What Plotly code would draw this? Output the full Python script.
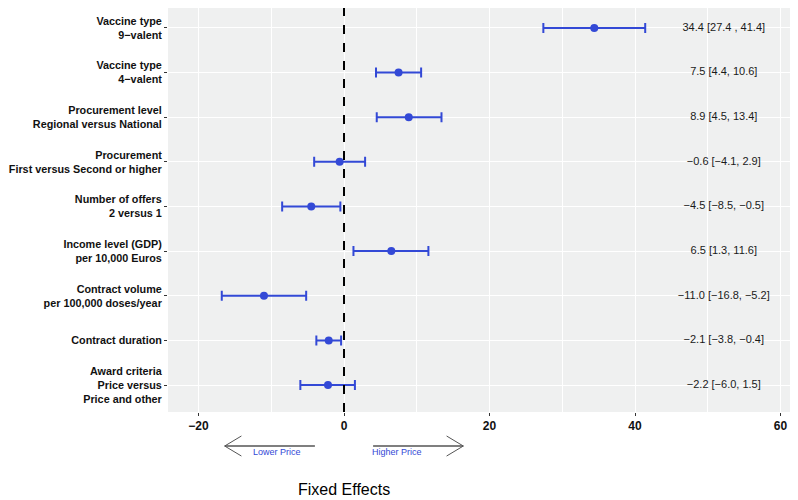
import plotly.graph_objects as go

categories = [
    "Vaccine type<br>9−valent",
    "Vaccine type<br>4−valent",
    "Procurement level<br>Regional versus National",
    "Procurement<br>First versus Second or higher",
    "Number of offers<br>2 versus 1",
    "Income level (GDP)<br>per 10,000 Euros",
    "Contract volume<br>per 100,000 doses/year",
    "Contract duration",
    "Award criteria<br>Price versus<br>Price and other",
]
estimates = [34.4, 7.5, 8.9, -0.6, -4.5, 6.5, -11.0, -2.1, -2.2]
lower = [27.4, 4.4, 4.5, -4.1, -8.5, 1.3, -16.8, -3.8, -6.0]
upper = [41.4, 10.6, 13.4, 2.9, -0.5, 11.6, -5.2, -0.4, 1.5]
ci_labels = [
    "34.4 [27.4 , 41.4]",
    "7.5 [4.4, 10.6]",
    "8.9 [4.5, 13.4]",
    "−0.6 [−4.1, 2.9]",
    "−4.5 [−8.5, −0.5]",
    "6.5 [1.3, 11.6]",
    "−11.0 [−16.8, −5.2]",
    "−2.1 [−3.8, −0.4]",
    "−2.2 [−6.0, 1.5]",
]
x_ticks = [-20, 0, 20, 40, 60]

BLUE = "#3349d6"
FONT = "Liberation Sans"

err_plus = [u - e for u, e in zip(upper, estimates)]
err_minus = [e - l for e, l in zip(estimates, lower)]

fig = go.Figure()
fig.add_trace(go.Scatter(
    x=estimates, y=categories, mode="markers",
    marker=dict(color=BLUE, size=8),
    error_x=dict(type="data", symmetric=False, array=err_plus, arrayminus=err_minus,
                 color=BLUE, thickness=2, width=5),
    showlegend=False, hoverinfo="x+y",
))
fig.add_trace(go.Scatter(
    x=[52.2] * len(categories), y=categories, mode="text", text=ci_labels,
    textfont=dict(family=FONT, size=11, color="#1a1a1a"),
    textposition="middle center", showlegend=False, hoverinfo="skip",
))

# zero line
fig.add_shape(type="line", xref="x", yref="paper", x0=0, x1=0, y0=0, y1=1,
              line=dict(color="black", width=2, dash="dash"), layer="above")

# arrows below the axis
arrow_y = -0.0842
arm_dx = 2.3
arm_dy = 0.0248
arrow_col = "#555555"
for (a, b) in [(-4.0, -16.4), (4.0, 16.4)]:
    fig.add_shape(type="line", xref="x", yref="paper", x0=a, x1=b, y0=arrow_y, y1=arrow_y,
                  line=dict(color=arrow_col, width=1.5))
    sign = 1 if b > a else -1
    for dy in (arm_dy, -arm_dy):
        fig.add_shape(type="line", xref="x", yref="paper", x0=b, x1=b - sign * arm_dx,
                      y0=arrow_y, y1=arrow_y + dy, line=dict(color=arrow_col, width=1))

fig.add_annotation(x=-9.2, y=-0.1, xref="x", yref="paper", text="Lower Price", showarrow=False,
                   yanchor="middle", font=dict(family=FONT, size=9, color=BLUE))
fig.add_annotation(x=7.3, y=-0.1, xref="x", yref="paper", text="Higher Price", showarrow=False,
                   yanchor="middle", font=dict(family=FONT, size=9, color=BLUE))
fig.add_annotation(x=0, y=-0.193, xref="x", yref="paper", text="Fixed Effects", showarrow=False,
                   yanchor="middle", font=dict(family=FONT, size=16, color="black"))

fig.update_layout(
    width=790, height=492,
    margin=dict(l=160, r=8, t=0, b=88),
    paper_bgcolor="white", plot_bgcolor="#EFF0F0",
    font=dict(family=FONT),
    xaxis=dict(
        range=[-24.19, 61.3], tickvals=x_ticks, ticktext=[f"<b>{'−' if v < 0 else ''}{abs(v)}</b>" for v in x_ticks],
        tickfont=dict(size=12, color="#111111"), showgrid=True, gridcolor="white", gridwidth=1.4,
        minor=dict(dtick=10, tick0=0, showgrid=True, gridcolor="white", gridwidth=0.6),
        zeroline=False, ticks="outside", ticklen=3, tickcolor="#333333", showline=False,
        automargin=False,
    ),
    yaxis=dict(
        type="category", categoryorder="array", categoryarray=categories,
        range=[8.605, -0.448], tickvals=categories,
        ticktext=[f"<b>{c}</b>" for c in categories],
        tickfont=dict(size=10.8, color="#111111"), showgrid=True, gridcolor="white", gridwidth=1.4,
        zeroline=False, ticks="outside", ticklen=3, tickcolor="#333333", showline=False,
        automargin=False,
    ),
)

fig.write_html("out.html")
